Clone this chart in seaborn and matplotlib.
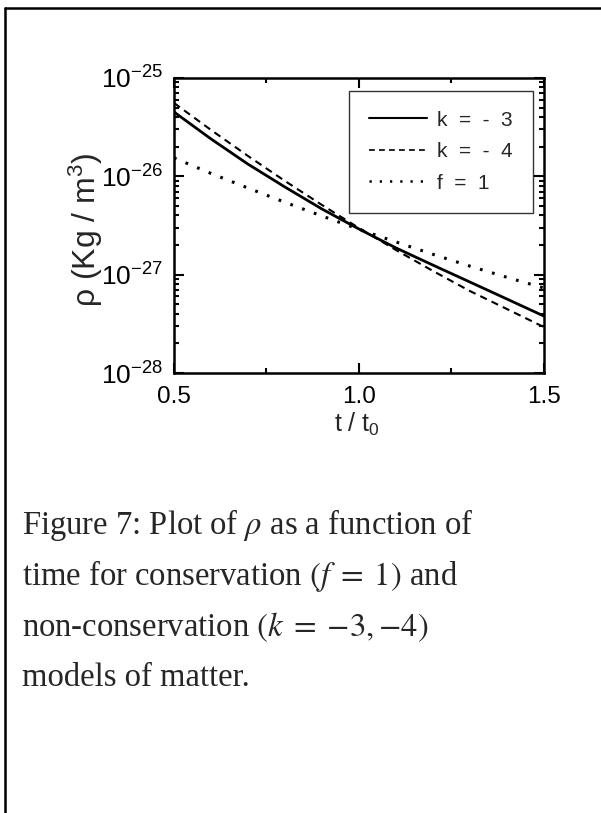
import numpy as np
import pandas as pd
import matplotlib
import matplotlib.pyplot as plt
import seaborn as sns
from matplotlib.lines import Line2D
from matplotlib.ticker import FixedLocator, FixedFormatter, LogLocator, NullFormatter

plt.switch_backend('Agg')

# values (t / t0 against rho in kg/m^3)
t_vals = [0.5, 0.6, 0.7, 0.8, 0.9, 1.0, 1.1, 1.2, 1.3, 1.4, 1.5]
rho_k3 = [4.51e-26, 2.40e-26, 1.33e-26, 7.78e-27, 4.65e-27, 2.91e-27,
          1.87e-27, 1.25e-27, 8.41e-28, 5.65e-28, 3.79e-28]
rho_k4 = [5.57e-26, 2.96e-26, 1.61e-26, 8.96e-27, 5.11e-27, 2.98e-27,
          1.78e-27, 1.09e-27, 6.81e-28, 4.47e-28, 2.93e-28]
rho_f1 = [1.54e-26, 1.07e-26, 7.60e-27, 5.44e-27, 3.95e-27, 2.89e-27,
          2.15e-27, 1.61e-27, 1.22e-27, 9.39e-28, 7.31e-28]
labels = ['k  =  -  3', 'k  =  -  4', 'f  =  1']

x_ticks = [0.5, 1.0, 1.5]
x_ticklabels = ['0.5', '1.0', '1.5']
y_ticks = [1e-28, 1e-27, 1e-26, 1e-25]
y_ticklabels = ['10$^{\\mathregular{-28}}$', '10$^{\\mathregular{-27}}$',
                '10$^{\\mathregular{-26}}$', '10$^{\\mathregular{-25}}$']

caption = ['Figure 7: Plot of $\\rho$ as a function of',
           'time for conservation $(f\\;=\\;1)$ and',
           'non-conservation $(k\\;=\\;{-}3,{-}4)$',
           'models of matter.']

df = pd.DataFrame({
    't': t_vals * 3,
    'rho': rho_k3 + rho_k4 + rho_f1,
    'model': [labels[0]] * len(t_vals) + [labels[1]] * len(t_vals) + [labels[2]] * len(t_vals),
})

sns.set_style('ticks')
plt.rcParams['font.family'] = ['Liberation Sans', 'DejaVu Sans']
plt.rcParams['mathtext.fontset'] = 'custom'
plt.rcParams['mathtext.rm'] = 'Liberation Sans'
plt.rcParams['mathtext.it'] = 'Liberation Sans:italic'

fig = plt.figure(figsize=(6.01, 8.13), dpi=100)
ax = fig.add_axes([0.2895, 0.5412, 0.6156, 0.3629])

sns.lineplot(data=df, x='t', y='rho', style='model', style_order=labels,
             dashes={labels[0]: '', labels[1]: (3.5, 2.5), labels[2]: (0.9, 3.2)},
             color='black', linewidth=2, ax=ax, legend=True)
widths = [2.0, 1.5, 2.2]
for ln, w in zip(ax.lines[:3], widths):
    ln.set_linewidth(w)

ax.set_yscale('log')
ax.set_xlim(0.5, 1.5)
ax.set_ylim(1e-28, 1e-25)

ax.xaxis.set_major_locator(FixedLocator(x_ticks))
ax.xaxis.set_major_formatter(FixedFormatter(x_ticklabels))
ax.xaxis.set_minor_locator(FixedLocator([0.75, 1.25]))
ax.yaxis.set_major_locator(FixedLocator(y_ticks))
ax.yaxis.set_major_formatter(FixedFormatter(y_ticklabels))
ax.yaxis.set_minor_locator(LogLocator(base=10, subs=np.arange(2, 10), numticks=20))
ax.yaxis.set_minor_formatter(NullFormatter())

ax.tick_params(which='both', direction='in', top=True, right=True, width=1.5, colors='black')
ax.tick_params(which='major', length=7)
ax.tick_params(which='minor', length=3.5)
ax.tick_params(axis='x', which='major', labelsize=17.5, pad=9)
ax.tick_params(axis='y', which='major', labelsize=19, pad=8)
for s in ax.spines.values():
    s.set_linewidth(1.8)
    s.set_color('black')

ax.set_xlabel('t / t$_\\mathregular{0}$', fontsize=18)
ax.xaxis.set_label_coords(0.495, -0.128)
ax.set_ylabel('\u03c1 (Kg / m$^\\mathregular{3}$)', fontsize=23)
ax.yaxis.set_label_coords(-0.186, 0.485)

leg = ax.legend(loc='upper right', bbox_to_anchor=(0.97, 0.956), borderaxespad=0,
                fontsize=15, frameon=True, fancybox=False, edgecolor='black',
                handlelength=2.8, handletextpad=0.5, labelspacing=0.6, borderpad=0.95)
leg.get_frame().set_linewidth(1.0)
for h, w in zip(leg.get_lines(), [1.5, 1.2, 1.8]):
    h.set_linewidth(w)

# caption below the chart
for i, line in enumerate(caption):
    fig.text(22 / 601, 1 - (525 + 51 * i) / 813, line, fontsize=23.5, va='center', ha='left',
             family=['Liberation Serif', 'DejaVu Serif'], math_fontfamily='stix')

# page frame: top and left edges
fig.add_artist(Line2D([4.5 / 601, 1.0], [1 - 8.5 / 813, 1 - 8.5 / 813],
                      transform=fig.transFigure, color='black', linewidth=1.8))
fig.add_artist(Line2D([4.5 / 601, 4.5 / 601], [0.0, 1 - 8.5 / 813],
                      transform=fig.transFigure, color='black', linewidth=1.8))

fig.savefig('out.png', dpi=100)
